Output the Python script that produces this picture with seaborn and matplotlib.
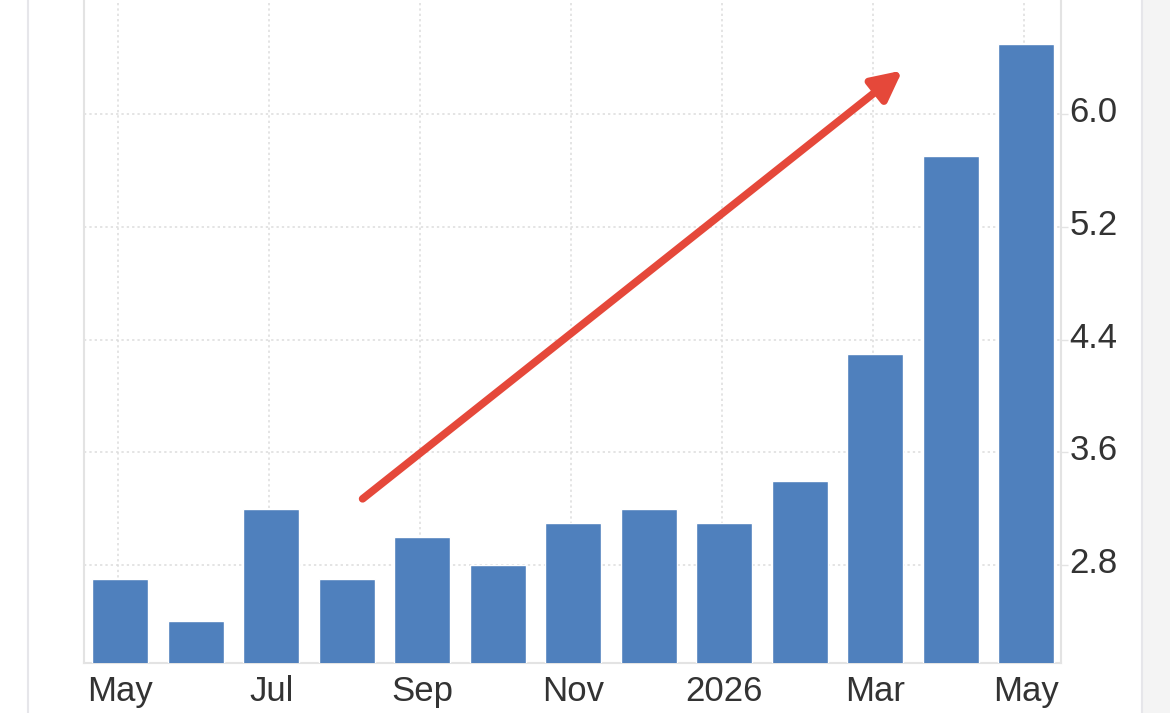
import matplotlib
matplotlib.use("Agg")
import matplotlib.pyplot as plt
import matplotlib.transforms as mtransforms
import seaborn as sns
import pandas as pd
from matplotlib.lines import Line2D
from matplotlib.patches import Rectangle

months = ["May 2025", "Jun 2025", "Jul 2025", "Aug 2025", "Sep 2025", "Oct 2025",
          "Nov 2025", "Dec 2025", "Jan 2026", "Feb 2026", "Mar 2026", "Apr 2026", "May 2026"]
values = [2.7, 2.4, 3.2, 2.7, 3.0, 2.8, 3.1, 3.2, 3.1, 3.4, 4.3, 5.7, 6.5]
tick_labels = ["May", "", "Jul", "", "Sep", "", "Nov", "", "2026", "", "Mar", "", "May"]
y_ticks = [2.8, 3.6, 4.4, 5.2, 6.0]
y_tick_labels = ["2.8", "3.6", "4.4", "5.2", "6.0"]
# trend arrow (start and end, in bar-index / value units)
arrow_start = (3.21, 3.27)
arrow_end = (10.36, 6.31)

df = pd.DataFrame({"month": months, "value": values})

sns.set_theme(style="white")
plt.rcParams["font.family"] = ["Liberation Sans", "DejaVu Sans"]

fig = plt.figure(figsize=(11.7, 7.13), dpi=100)
fig.patch.set_facecolor("white")

# page decorations: left border line, right grey margin
fig.add_artist(Rectangle((1143 / 1170, 0), 1 - 1143 / 1170, 1, transform=fig.transFigure,
                         facecolor="#f4f4f4", edgecolor="none", zorder=0))
fig.add_artist(Line2D([28 / 1170, 28 / 1170], [0, 1], transform=fig.transFigure,
                      color="#e6e6ea", lw=1.5, zorder=1))
fig.add_artist(Line2D([1142 / 1170, 1142 / 1170], [0, 1], transform=fig.transFigure,
                      color="#e6e6ea", lw=1.5, zorder=1))

ax = fig.add_axes([84 / 1170, 1 - 662.7 / 713, (1061 - 84) / 1170, 662.7 / 713])
ax.set_facecolor("white")

sns.barplot(data=df, x="month", y="value", order=months, color="#4f80bd",
            saturation=1, width=0.74, ax=ax, zorder=3)

ax.set_xlim(-0.48, 12.46)
ax.set_ylim(2.107, 6.81)

ax.set_xticks(range(len(months)))
ax.set_xticklabels(tick_labels)
ax.yaxis.tick_right()
ax.set_yticks(y_ticks)
ax.set_yticklabels(y_tick_labels)
ax.set_xlabel("")
ax.set_ylabel("")

# grid only at labeled x ticks
for i, lab in enumerate(tick_labels):
    if lab:
        ax.axvline(i - 0.03, color="#dcdcdc", lw=1.1, ls=(0, (1.5, 2)), zorder=1)
for yv in y_ticks:
    ax.axhline(yv, color="#dcdcdc", lw=1.1, ls=(0, (1.5, 2)), zorder=1)

for side in ["left", "right", "bottom"]:
    ax.spines[side].set_visible(True)
    ax.spines[side].set_color("#e3e3e3")
    ax.spines[side].set_linewidth(1.5)
ax.spines["top"].set_visible(False)

ax.tick_params(axis="x", length=0, pad=9, labelsize=25, labelcolor="#333333")
ax.tick_params(axis="y", which="major", right=True, left=False, length=5, width=1,
               color="#e3e3e3", pad=1, labelsize=25, labelcolor="#333333")

offset = mtransforms.ScaledTranslation(0, 5 / 100, fig.dpi_scale_trans)
for lbl in ax.get_yticklabels():
    lbl.set_transform(lbl.get_transform() + offset)

ax.annotate("", xy=arrow_end, xytext=arrow_start,
            arrowprops=dict(arrowstyle="-|>,head_length=1.5,head_width=0.75",
                            color="#e5483a", lw=5.5, shrinkA=0, shrinkB=0),
            zorder=5)

fig.savefig("out.png", dpi=100, facecolor=fig.get_facecolor())
